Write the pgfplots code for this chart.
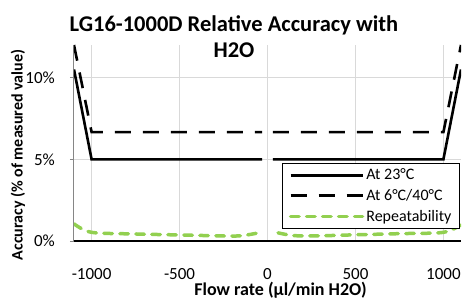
\documentclass[border=0pt]{standalone}
\usepackage{fontspec}
\setmainfont{Carlito}
\usepackage{pgfplots}
\pgfplotsset{compat=1.18}
\definecolor{gridgray}{HTML}{D9D9D9}
\definecolor{axgray}{HTML}{868686}
\definecolor{repgreen}{HTML}{92D050}
\begin{document}
\begin{tikzpicture}
\begin{axis}[
  scale only axis,
  width=387pt, height=196pt,
  xmin=-1100, xmax=1100, ymin=0, ymax=12,
  axis x line=bottom, axis y line=left,
  x axis line style={-, black, line width=1.6pt},
  y axis line style={-, axgray, line width=1pt},
  xtick={-1000,-500,0,500,1000},
  xticklabels={-1000,-500,0,500,1000},
  ytick={0,5,10},
  yticklabels={0\%,5\%,10\%},
  tick align=outside,
  major tick length=4pt,
  x tick style={draw=none},
  y tick style={axgray, line width=1pt},
  grid=major,
  major grid style={gridgray, line width=1pt},
  tick label style={font=\fontsize{17}{20}\selectfont},
  xticklabel style={anchor=north, inner sep=0pt, yshift=-23pt},
  yticklabel style={anchor=east, inner sep=0pt, xshift=-15pt},
  xlabel={Flow rate (µl/min H2O)},
  ylabel={Accuracy (\% of measured value)},
  xlabel style={font=\bfseries\fontsize{18}{21}\selectfont, at={(axis description cs:0.5336,-0.2806)}, anchor=base, inner sep=0pt},
  ylabel style={font=\bfseries\fontsize{16}{19}\selectfont, at={(axis description cs:-0.1447,0.439)}, anchor=center, inner sep=0pt},
  legend style={at={(axis description cs:0.997,0.061)}, anchor=south east,
    draw=black, line width=0.8pt, fill=white,
    font=\fontsize{16}{19}\selectfont, inner xsep=6pt, inner ysep=4pt,
    row sep=4pt,
    /tikz/every even column/.append style={column sep=2pt}},
  legend cell align=left,
  legend image code/.code={\draw[#1] (0pt,0pt) -- (72pt,0pt);},
  clip=true,
]
% At 23 C
\addplot[black, line width=2.6pt, line join=miter] coordinates {(-1100,10.5) (-1000,5) (-30,5)};
\addlegendentry{At 23°C}
% At 6 C / 40 C
\addplot[black, line width=2.6pt, dash pattern=on 16pt off 12pt] coordinates {(-1100,12) (-1000,6.67) (-30,6.67)};
\addlegendentry{At 6°C/40°C}
% Repeatability
\addplot[repgreen, line width=3.5pt, dash pattern=on 8.5pt off 7.5pt, line cap=round, smooth, tension=0.5] coordinates {(-1100,1.05) (-1000,0.53) (-750,0.43) (-500,0.37) (-250,0.31) (-150,0.32) (-60,0.48)};
\addlegendentry{Repeatability}
\addplot[black, line width=2.6pt, line join=miter, forget plot] coordinates {(30,5) (1000,5) (1100,10.5)};
\addplot[black, line width=2.6pt, dash pattern=on 16pt off 12pt, forget plot] coordinates {(30,6.67) (1000,6.67) (1100,12)};
\addplot[repgreen, line width=3.5pt, dash pattern=on 8.5pt off 7.5pt, line cap=round, smooth, tension=0.5, forget plot] coordinates {(60,0.5) (150,0.33) (300,0.32) (500,0.38) (750,0.45) (1000,0.53) (1100,1.0)};
\end{axis}
\node[anchor=base, font=\bfseries\fontsize{22.5}{27}\selectfont, inner sep=0pt] at (160pt,209pt) {LG16-1000D Relative Accuracy with};
\node[anchor=base, font=\bfseries\fontsize{22.5}{27}\selectfont, inner sep=0pt] at (160pt,183pt) {H2O};
\pgfresetboundingbox
\useasboundingbox (-74pt,-59pt) rectangle (394pt,241pt);
\end{tikzpicture}
\end{document}
